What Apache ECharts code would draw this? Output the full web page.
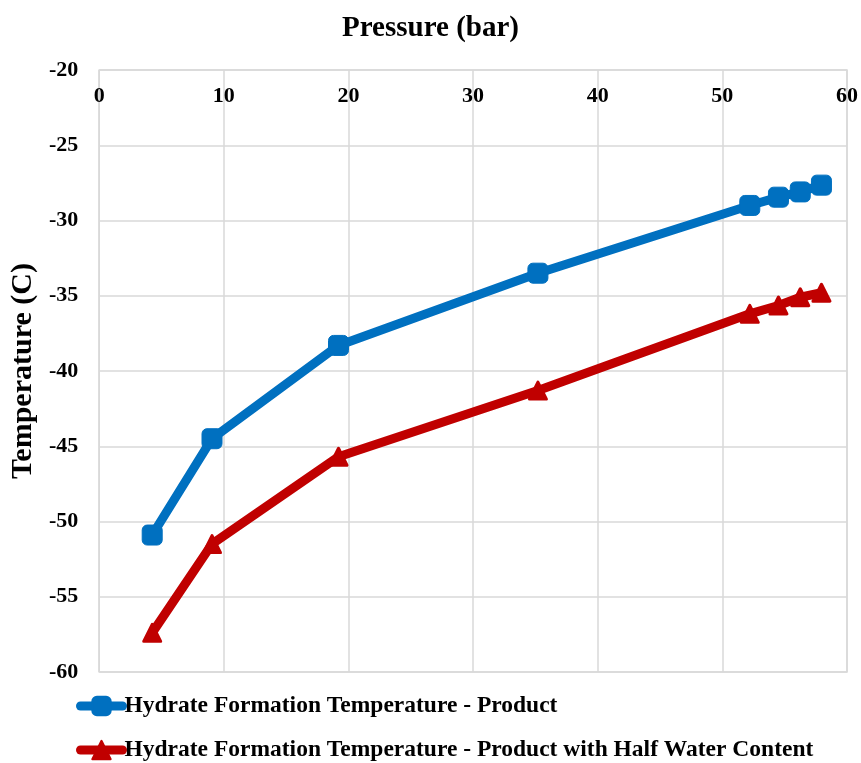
<!DOCTYPE html>
<html>
<head>
<meta charset="utf-8">
<style>
  html, body { margin: 0; padding: 0; background: #ffffff; }
  #chart { width: 861px; height: 763px; }
</style>
<script src="https://cdn.jsdelivr.net/npm/echarts@6/dist/echarts.min.js"></script>
</head>
<body>
<div id="chart"></div>
<script>
// Pressure (bar) at each test point
const pressure = [4.25, 9.05, 19.2, 35.2, 52.2, 54.5, 56.25, 57.95];
// Hydrate formation temperature (C)
const tempProduct = [-50.9, -44.5, -38.3, -33.5, -29.0, -28.45, -28.1, -27.65];
const tempHalfWater = [-57.4, -51.5, -45.7, -41.3, -36.2, -35.65, -35.1, -34.8];
const xTicks = [0, 10, 20, 30, 40, 50, 60];
const yTicks = [-60, -55, -50, -45, -40, -35, -30, -25, -20];

const seriesNames = [
  'Hydrate Formation Temperature - Product',
  'Hydrate Formation Temperature - Product with Half Water Content'
];

const font = 'Liberation Serif';
const pairs = (xs, ys) => xs.map((x, i) => [x, ys[i]]);

const chart = echarts.init(document.getElementById('chart'));
chart.setOption({
  animation: false,
  backgroundColor: '#ffffff',
  grid: { left: 99, right: 14, top: 70, bottom: 91, show: true, borderColor: '#d9d9d9', borderWidth: 1.5 },
  title: {
    text: 'Pressure (bar)',
    left: 'center',
    top: 9,
    textStyle: { fontFamily: font, fontWeight: 'bold', fontSize: 29, color: '#000' }
  },
  legend: {
    orient: 'vertical',
    left: 76,
    top: 694,
    padding: 0,
    itemGap: 20,
    itemWidth: 42,
    itemHeight: 23,
    lineStyle: { width: 9, cap: 'round' },
    textStyle: { fontFamily: font, fontWeight: 'bold', fontSize: 23.5, lineHeight: 23, color: '#000', padding: [0, 0, 0, -3] },
    data: seriesNames
  },
  xAxis: {
    type: 'value',
    position: 'top',
    min: 0, max: 60, interval: 10,
    axisLine: { show: false },
    axisTick: { show: false },
    splitLine: { lineStyle: { color: '#d9d9d9', width: 1.5 } },
    axisLabel: {
      inside: true, margin: 15,
      fontFamily: font, fontWeight: 'bold', fontSize: 22, color: '#000',
      formatter: v => xTicks.includes(v) ? String(v) : ''
    }
  },
  yAxis: {
    type: 'value',
    min: -60, max: -20, interval: 5,
    name: 'Temperature (C)',
    nameLocation: 'middle',
    nameGap: 52,
    nameTextStyle: { fontFamily: font, fontWeight: 'bold', fontSize: 30, color: '#000' },
    axisLine: { show: false },
    axisTick: { show: false },
    splitLine: { lineStyle: { color: '#d9d9d9', width: 1.5 } },
    axisLabel: {
      margin: 21,
      fontFamily: font, fontWeight: 'bold', fontSize: 22, color: '#000',
      formatter: v => yTicks.includes(v) ? String(v) : ''
    }
  },
  series: [
    {
      name: seriesNames[0],
      type: 'line',
      data: pairs(pressure, tempProduct),
      symbol: 'roundRect',
      symbolSize: 20,
      lineStyle: { color: '#0070c0', width: 9 },
      itemStyle: { color: '#0070c0', borderColor: '#0070c0', borderWidth: 1 },
      z: 3
    },
    {
      name: seriesNames[1],
      type: 'line',
      data: pairs(pressure, tempHalfWater),
      symbol: 'triangle',
      symbolSize: 17,
      lineStyle: { color: '#c00000', width: 9 },
      itemStyle: { color: '#c00000', borderColor: '#c00000', borderWidth: 3, borderJoin: 'round' },
      z: 2
    }
  ]
});
</script>
</body>
</html>
